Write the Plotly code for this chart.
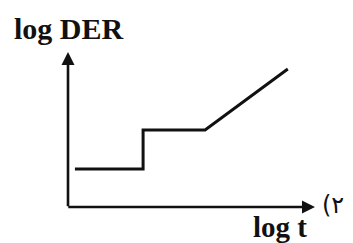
import plotly.graph_objects as go

# Polyline in abstract (log t, log DER) units; axes span 0..10
log_t = [0.28, 3.04, 3.04, 5.55, 8.9]
log_der = [2.45, 2.45, 4.97, 4.97, 8.9]

x_label = "log t"
y_label = "log DER"
fig_label = "(۲"

fig = go.Figure()
fig.add_trace(go.Scatter(x=log_t, y=log_der, mode="lines",
                         line=dict(color="#111111", width=3), hoverinfo="skip",
                         showlegend=False))

# axes with arrows
fig.add_annotation(x=10, y=0, ax=-0.05, ay=0, xref="x", yref="y", axref="x", ayref="y",
                   showarrow=True, arrowhead=2, arrowsize=1, arrowwidth=2.6,
                   arrowcolor="#111111", text="")
fig.add_annotation(x=0, y=10, ax=0, ay=-0.05, xref="x", yref="y", axref="x", ayref="y",
                   showarrow=True, arrowhead=2, arrowsize=1, arrowwidth=2.6,
                   arrowcolor="#111111", text="")

serif = "Liberation Serif, Times New Roman, serif"
fig.add_annotation(x=0.05, y=11.55, xref="x", yref="y", text="<b>" + y_label + "</b>",
                   showarrow=False, font=dict(family=serif, size=30, color="#111111"))
fig.add_annotation(x=8.6, y=-1.3, xref="x", yref="y", text="<b>" + x_label + "</b>",
                   showarrow=False, font=dict(family=serif, size=29, color="#111111"))
fig.add_annotation(x=10.22, y=0.15, xref="x", yref="y", text=fig_label, xanchor="left",
                   showarrow=False, font=dict(family="DejaVu Sans", size=24, color="#111111"))

fig.update_xaxes(visible=False, range=[-2.43, 11.54])
fig.update_yaxes(visible=False, range=[-2.32, 12.84])
fig.update_layout(width=345, height=235, margin=dict(l=0, r=0, t=0, b=0),
                  plot_bgcolor="white", paper_bgcolor="white")
fig.write_html("out.html")
